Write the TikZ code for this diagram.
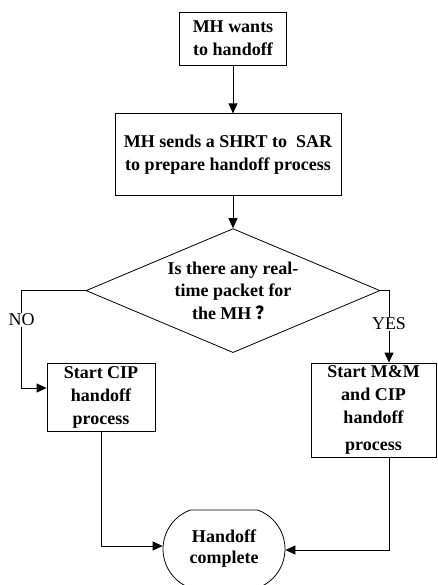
\documentclass[tikz,border=0pt]{standalone}
\usepackage{fontspec}
\setmainfont{Liberation Serif}
\newfontfamily\cjkfont{Noto Sans CJK SC}
\usetikzlibrary{shapes.geometric, shapes.misc, arrows.meta, positioning}
\tikzstyle{arrow} = [line width=0.8pt, -{Triangle[length=10pt,width=9pt]}]
\tikzstyle{process} = [draw, line width=0.8pt, rectangle, align=center, inner sep=0pt, font=\fontsize{18}{23}\selectfont\bfseries]
\tikzstyle{decision} = [draw, line width=0.8pt, diamond, shape aspect=2.37, align=center, inner sep=0pt, minimum width=294pt, minimum height=124pt, font=\fontsize{18}{22.5}\selectfont\bfseries]
\tikzstyle{terminal} = [draw, line width=0.8pt, rounded rectangle, rounded rectangle arc length=140, align=center, inner sep=0pt, minimum width=122pt, minimum height=78pt, font=\fontsize{18}{21}\selectfont\bfseries]
\tikzstyle{answer} = [fill=white, inner sep=1pt, font=\fontsize{18}{22}\selectfont]

\begin{document}
\begin{tikzpicture}[x=1pt, y=1pt]
    \useasboundingbox (0,0) rectangle (437,-585);

    % Main chain
    \node[process, minimum width=107pt, minimum height=53pt] (wants) at (233,-38.5) {MH wants\\to handoff};
    \node[process, minimum width=226pt, minimum height=82pt, below=48pt of wants, xshift=-5pt] (sends) {MH sends a SHRT to \ SAR\\to prepare handoff process};
    \node[decision, below=32pt of sends, xshift=5pt] (query) {Is there any real-\\time packet for\\the MH {\cjkfont ？}};

    % Branches
    \node[process, minimum width=108pt, minimum height=68pt] (cip) at (101,-397) {Start CIP\\handoff\\process};
    \node[process, minimum width=125pt, minimum height=94pt] (mm) at (373.5,-410) {Start M\&M\\and CIP\\handoff\\[4pt]process};
    \node[terminal] (done) at (224,-549) {Handoff\\complete};

    \draw[arrow] (wants.south) -- (wants.south |- sends.north);
    \draw[arrow] (sends.south -| query.north) -- (query.north);
    \draw[arrow] (query.west) -- ++(-64,0) |- node[answer, pos=0.15] {NO} ([yshift=9pt]cip.west);
    \draw[arrow] (query.east) -| node[answer, pos=0.73] {YES} ([xshift=15.5pt]mm.north);
    \draw[arrow] (cip.south) |- ([yshift=3pt]done.west);
    \draw[arrow] ([xshift=15.5pt]mm.south) |- ([yshift=-1pt]done.east);
\end{tikzpicture}
\end{document}
